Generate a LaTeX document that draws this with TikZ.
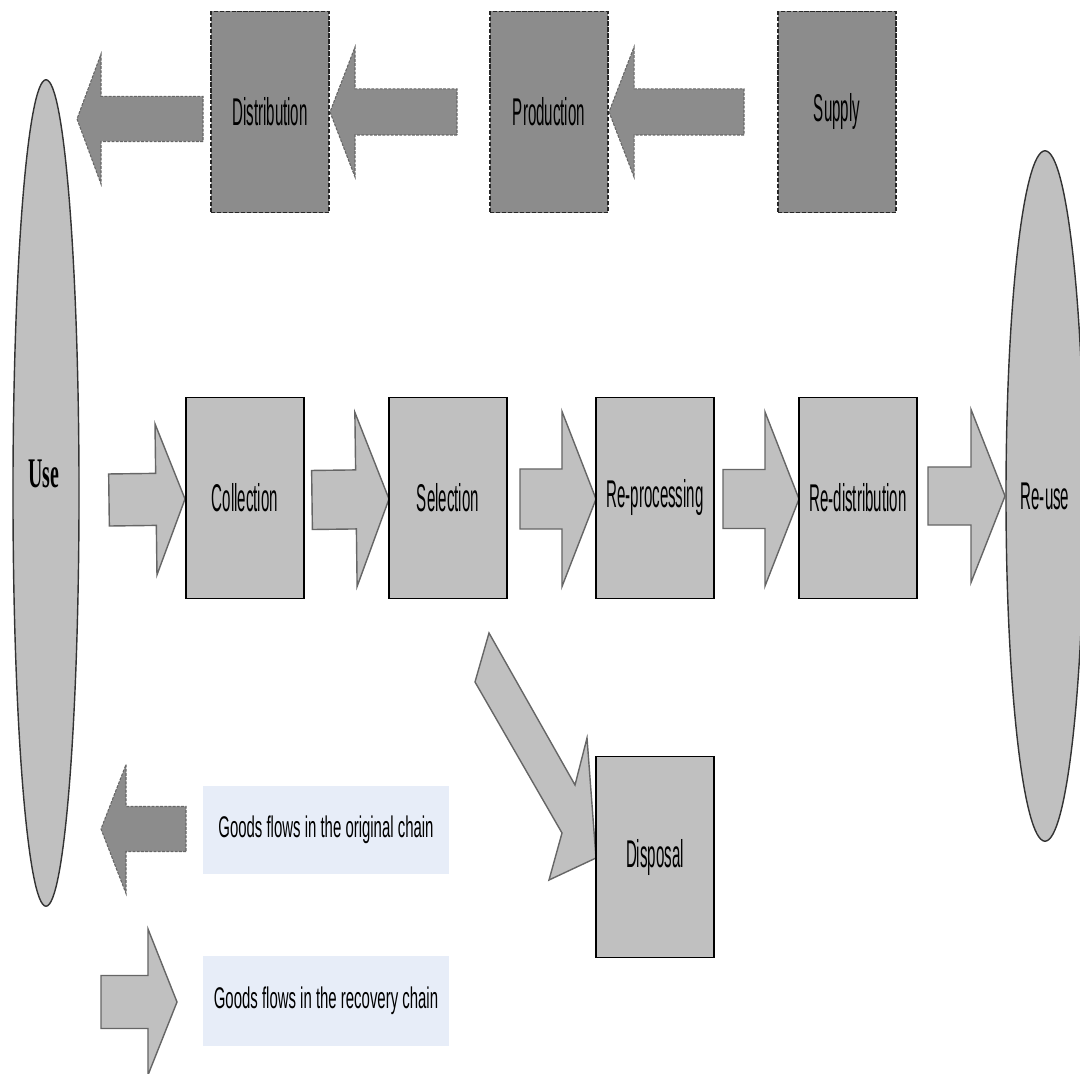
\documentclass[tikz,border=0pt]{standalone}
\usepackage{fontspec}
\usetikzlibrary{shapes.geometric,calc}

\newfontfamily\boxfont[FakeStretch=0.39]{Liberation Sans}
\newfontfamily\keyfont[FakeStretch=0.5]{Liberation Sans}
\newfontfamily\narrowserif[FakeStretch=0.47]{Liberation Serif}

\definecolor{origgray}{HTML}{8C8C8C}
\definecolor{recgray}{HTML}{C0C0C0}
\definecolor{keyblue}{HTML}{E7EDF8}

% block arrow: style, tail, tip, head length, shaft half width, head half width
\newcommand\blockarrow[6]{%
  \coordinate (ba) at ($(#3)!#4!(#2)$);
  \draw[#1] ($(#2)!#5!90:(#3)$) -- ($(ba)!#5!90:(#3)$)
    -- ($(ba)!#6!90:(#3)$) -- (#3) -- ($(ba)!#6!-90:(#3)$)
    -- ($(ba)!#5!-90:(#3)$) -- ($(#2)!#5!-90:(#3)$) -- cycle;}

\begin{document}
\begin{tikzpicture}[x=0.01cm,y=-0.01cm,
    darkbox/.style={rectangle,fill=origgray,draw=black!85,line width=0.4pt,
      dash pattern=on 1.2pt off 0.5pt,inner sep=0pt,
      minimum width=1.18cm,minimum height=2.01cm,
      font=\boxfont\fontsize{11}{13}\selectfont},
    lightbox/.style={rectangle,fill=recgray,draw=black,line width=0.5pt,inner sep=0pt,
      minimum width=1.18cm,minimum height=2.01cm,
      font=\boxfont\fontsize{11}{13}\selectfont},
    endpoint/.style={ellipse,fill=recgray,draw=black!80,line width=0.4pt,inner sep=0pt},
    keybox/.style={rectangle,fill=keyblue,inner sep=0pt,minimum width=2.46cm,
      font=\keyfont\fontsize{8.5}{10}\selectfont},
    darkflow/.style={fill=origgray,draw=black!60,line width=0.3pt,
      dash pattern=on 0.8pt off 0.4pt},
    lightflow/.style={fill=recgray,draw=black!60,line width=0.4pt}]
  \useasboundingbox (0,0) rectangle (1080,1074);

  % end points of the chains
  \node[endpoint,minimum width=0.66cm,minimum height=8.26cm] (use) at (46,493) {};
  \node[font=\narrowserif\bfseries\fontsize{12}{14}\selectfont] (uselabel) at (44,474) {Use};
  \node[endpoint,minimum width=0.78cm,minimum height=6.9cm,
    font=\boxfont\fontsize{11}{13}\selectfont] (reuse) at (1045,496) {Re-use};

  % original chain arrows
  \coordinate (sup-out) at (744,112);  \coordinate (prod-in) at (609,112);
  \coordinate (prod-out) at (457,112); \coordinate (dist-in) at (330,112);
  \coordinate (dist-out) at (203,119); \coordinate (use-in) at (77,119);
  \blockarrow{darkflow}{sup-out}{prod-in}{2.5mm}{2.3mm}{6.5mm}
  \blockarrow{darkflow}{prod-out}{dist-in}{2.5mm}{2.3mm}{6.5mm}
  \blockarrow{darkflow}{dist-out}{use-in}{2.4mm}{2.25mm}{6.5mm}

  % recovery chain arrows
  \coordinate (use-out) at (109,500);  \coordinate (coll-in) at (185,499);
  \coordinate (coll-out) at (312,500); \coordinate (sel-in) at (389,499);
  \coordinate (sel-out) at (520,499);  \coordinate (proc-in) at (596,499);
  \coordinate (proc-out) at (723,499); \coordinate (redist-in) at (799,499);
  \coordinate (redist-out) at (928,496); \coordinate (reuse-in) at (1005,496);
  \blockarrow{lightflow}{use-out}{coll-in}{2.9mm}{2.6mm}{7.55mm}
  \blockarrow{lightflow}{coll-out}{sel-in}{3.3mm}{2.95mm}{8.7mm}
  \blockarrow{lightflow}{sel-out}{proc-in}{3.4mm}{3mm}{8.75mm}
  \blockarrow{lightflow}{proc-out}{redist-in}{3.4mm}{2.95mm}{8.7mm}
  \blockarrow{lightflow}{redist-out}{reuse-in}{3.4mm}{2.9mm}{8.65mm}

  % selection to disposal, slanted
  \coordinate (disp-in) at (596,858);
  \draw[lightflow] (489,633) -- (575,785) -- (587,738) -- (disp-in)
    -- (549,880) -- (562,833) -- (475,682) -- cycle;

  % original chain
  \node[darkbox] (dist) at (270,112) {Distribution};
  \node[darkbox] (prod) at (549,112) {Production};
  \node[darkbox] (sup) at (837,112) {Supply};

  % recovery chain
  \node[lightbox] (coll) at (245,498) {Collection};
  \node[lightbox] (sel) at (448,498) {Selection};
  \node[lightbox] (proc) at (655,498) {Re-processing};
  \node[lightbox] (redist) at (858,498) {Re-distribution};
  \node[lightbox] (disp) at (655,857) {Disposal};

  % key
  \coordinate (key1-out) at (186,829); \coordinate (key1-in) at (101,829);
  \coordinate (key2-out) at (101,1002); \coordinate (key2-in) at (177,1002);
  \blockarrow{darkflow}{key1-out}{key1-in}{2.5mm}{2.25mm}{6.45mm}
  \blockarrow{lightflow}{key2-out}{key2-in}{2.9mm}{2.65mm}{7.3mm}
  \node[keybox,minimum height=0.87cm] (key1) at (326,830) {Goods flows in the original chain};
  \node[keybox,minimum height=0.89cm] (key2) at (326,1001) {Goods flows in the recovery chain};
\end{tikzpicture}
\end{document}
